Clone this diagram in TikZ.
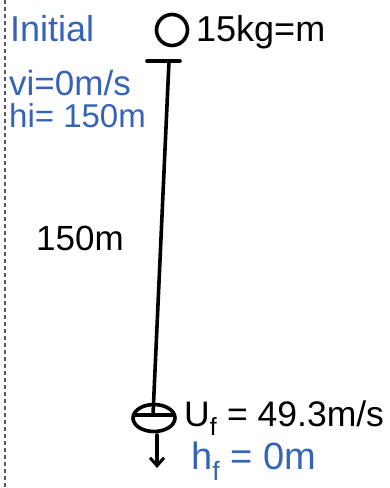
\documentclass[tikz,border=0pt]{standalone}
\usepackage{fontspec}
\setmainfont{Liberation Sans}
\usetikzlibrary{arrows.meta,shapes.geometric}
\definecolor{inkblue}{HTML}{3563B8}
\begin{document}
\begin{tikzpicture}[x=1pt,y=-1pt,
  ink/.style={line width=3.6pt, black, line cap=round},
  bluetxt/.style={inner sep=0pt, anchor=west, text=inkblue},
  blacktxt/.style={inner sep=0pt, anchor=west, text=black}]
\useasboundingbox (0,0) rectangle (390,488);
% dashed margin line
\draw[line width=2.2pt, black!65, dash pattern=on 4pt off 3pt] (5,0) -- (5,488);
% labels
\node[bluetxt, font=\fontsize{36}{36}\selectfont] (init) at (10,29) {Initial};
\node[bluetxt, font=\fontsize{35}{35}\selectfont] (vi) at (9,83) {vi=0m/s};
\node[bluetxt, font=\fontsize{33}{33}\selectfont] (hi) at (9,116) {hi= 150m};
\node[blacktxt, font=\fontsize{36}{36}\selectfont] (mass) at (196,32) {15kg=m};
\node[blacktxt, font=\fontsize{35}{35}\selectfont] (len) at (36,238) {150m};
\node[blacktxt, font=\fontsize{35.5}{35.5}\selectfont] (vf) at (184,418) {U\textsubscript{f} = 49.3m/s};
\node[bluetxt, font=\fontsize{38}{38}\selectfont] (hf) at (191,461) {h\textsubscript{f} = 0m};
% top object
\node[ink, draw, circle, minimum size=31pt, inner sep=0pt] (top) at (172,30) {};
\coordinate (barL) at (147,61);
\coordinate (barR) at (180,61);
\coordinate (barM) at (169,61);
\draw[ink] (barL) -- (barR);
% bottom object
\node[ink, draw, ellipse, minimum width=42pt, minimum height=27pt, inner sep=0pt] (bot) at (154,418) {};
\coordinate (eL) at (135,415);
\coordinate (eR) at (174,415);
\draw[ink] (eL) -- (eR);
\coordinate (botM) at (153,415);
% vertical rope/path
\draw[ink] (barM) -- (botM);
% arrow down
\coordinate (aS) at (157,435);
\coordinate (aE) at (157,468);
\draw[ink, -{Straight Barb[length=8pt,width=14pt,line width=3pt]}] (aS) -- (aE);
\end{tikzpicture}
\end{document}
